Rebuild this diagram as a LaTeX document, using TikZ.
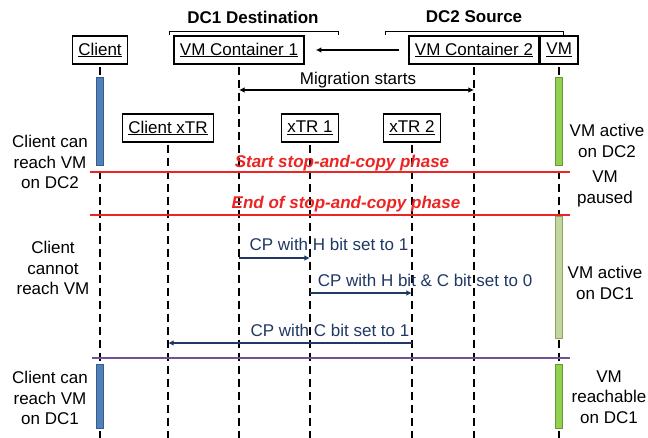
\documentclass[tikz,border=0pt]{standalone}
\usepackage{fontspec}
\setmainfont{Liberation Sans}
\usetikzlibrary{arrows.meta}
\definecolor{barblue}{RGB}{79,129,189}
\definecolor{barblueline}{RGB}{56,93,138}
\definecolor{bargreen}{RGB}{146,208,80}
\definecolor{bargreenline}{RGB}{104,150,56}
\definecolor{barpale}{RGB}{195,214,155}
\definecolor{barpaleline}{RGB}{140,162,104}
\definecolor{phasered}{RGB}{236,36,36}
\definecolor{endpurple}{RGB}{112,82,150}
\definecolor{msgnavy}{RGB}{31,56,100}
\tikzset{%
  >={Latex[width=2mm,length=2mm]},
            base/.style = {rectangle, draw=black, line width=1.4pt,
                           minimum height=28pt, inner xsep=6pt, inner ysep=0pt,
                           font=\fontsize{17}{20.5}\selectfont},
  head/.style = {font=\fontsize{17}{20.5}\selectfont\bfseries},
  note/.style = {align=center, font=\fontsize{17}{20.5}\selectfont},
  life/.style = {line width=1.5pt, dash pattern=on 8pt off 5pt},
  bar/.style  = {rectangle, inner sep=0pt, minimum width=7pt, line width=0.8pt},
  bluebar/.style  = {bar, fill=barblue, draw=barblueline},
  greenbar/.style = {bar, fill=bargreen, draw=bargreenline},
  palebar/.style  = {bar, fill=barpale, draw=barpaleline},
  phase/.style    = {draw=phasered, line width=1.3pt},
  phasetxt/.style = {text=phasered, font=\fontsize{17}{20.5}\selectfont\bfseries\itshape},
  msg/.style      = {draw=msgnavy, line width=1.2pt, ->},
  msgtxt/.style   = {text=msgnavy, font=\fontsize{17}{20.5}\selectfont},
}
\begin{document}
\begin{tikzpicture}[x=1pt, y=-1pt]
  \useasboundingbox (0,0) rectangle (648,438);

  % data centre headings
  \node (dc1) [head] at (253,17) {DC1 Destination};
  \node (dc2) [head] at (474,17) {DC2 Source};
  \draw[line width=1pt] (169,35) -- (169,31.5) -- (338,31.5) -- (338,35);
  \draw[line width=1pt] (385,35) -- (385,31.5) -- (563,31.5) -- (563,35);

  % participants
  \node (client) [base] at (100,50)  {\underline{Client}};
  \node (vmc1)   [base] at (239,50)  {\underline{VM Container 1}};
  \node (vmc2)   [base] at (474,50)  {\underline{VM Container 2}};
  \node (vm)     [base, anchor=west] at (vmc2.east) {\underline{VM}};
  \node (cxtr)   [base] at (168,128) {\underline{Client xTR}};
  \node (xtr1)   [base] at (310,128) {\underline{xTR 1}};
  \node (xtr2)   [base] at (412,128) {\underline{xTR 2}};

  \coordinate (bot)  at (0,438);
  \coordinate (ymig) at (0,90);
  \coordinate (yH)   at (0,258);
  \coordinate (yHC)  at (0,293);
  \coordinate (yC)   at (0,343);

  % lifelines
  \draw[life, shorten <=2pt] (client.south) -- (client.south |- bot);
  \draw[life, shorten <=2pt] (vmc1.south)   -- (vmc1.south |- bot);
  \draw[life, shorten <=2pt] (vmc2.south)   -- (vmc2.south |- bot);
  \draw[life, shorten <=2pt] (vm.south)     -- (vm.south |- bot);
  \draw[life, shorten <=2pt] (cxtr.south)   -- (cxtr.south |- bot);
  \draw[life, shorten <=2pt] (xtr1.south)   -- (xtr1.south |- bot);
  \draw[life, shorten <=2pt] (xtr2.south)   -- (xtr2.south |- bot);

  % activity bars
  \node (cbar1) [bluebar, minimum height=88pt]  at (100,121.5) {};
  \node (cbar2) [bluebar, minimum height=64pt]  at (100,396)   {};
  \node (vbar1) [greenbar, minimum height=88pt] at (vm.south |- 0,121.5) {};
  \node (vbar2) [palebar, minimum height=122pt] at (vm.south |- 0,277)   {};
  \node (vbar3) [greenbar, minimum height=64pt] at (vm.south |- 0,396)   {};

  % migration
  \draw[->, line width=1.5pt, shorten <=9pt, shorten >=11pt] (vmc2) -- (vmc1);
  \node (migtxt) [msgtxt, text=black] at (358,80) {Migration starts};
  \draw[<->, line width=1.2pt] (vmc1 |- ymig) -- (vmc2 |- ymig);

  % stop-and-copy phase
  \draw[phase] (90,172) -- (570,172);
  \draw[phase] (90,215) -- (570,215);
  \node (ph1) [phasetxt] at (342,163) {Start stop-and-copy phase};
  \node (ph2) [phasetxt] at (346,204) {End of stop-and-copy phase};
  \draw[draw=endpurple, line width=1.3pt] (92,358) -- (570,358);

  % control plane messages
  \node (m1) [msgtxt] at (329,244) {CP with H bit set to 1};
  \node (m2) [msgtxt] at (425,280) {CP with H bit \& C bit set to 0};
  \node (m3) [msgtxt] at (330,330) {CP with C bit set to 1};
  \draw[msg] (vmc1 |- yH)  -- (xtr1 |- yH);
  \draw[msg] (xtr1 |- yHC) -- (xtr2 |- yHC);
  \draw[msg] (xtr2 |- yC)  -- (cxtr |- yC);

  % state notes
  \node (n1) [note] at (50,162) {Client can\\reach VM\\on DC2};
  \node (n2) [note] at (53,268) {Client\\cannot\\reach VM};
  \node (n3) [note] at (50,398) {Client can\\reach VM\\on DC1};
  \node (n4) [note] at (607,141) {VM active\\on DC2};
  \node (n5) [note] at (605,189) {VM\\paused};
  \node (n6) [note] at (605,283) {VM active\\on DC1};
  \node (n7) [note] at (609,397) {VM\\reachable\\on DC1};
\end{tikzpicture}
\end{document}
